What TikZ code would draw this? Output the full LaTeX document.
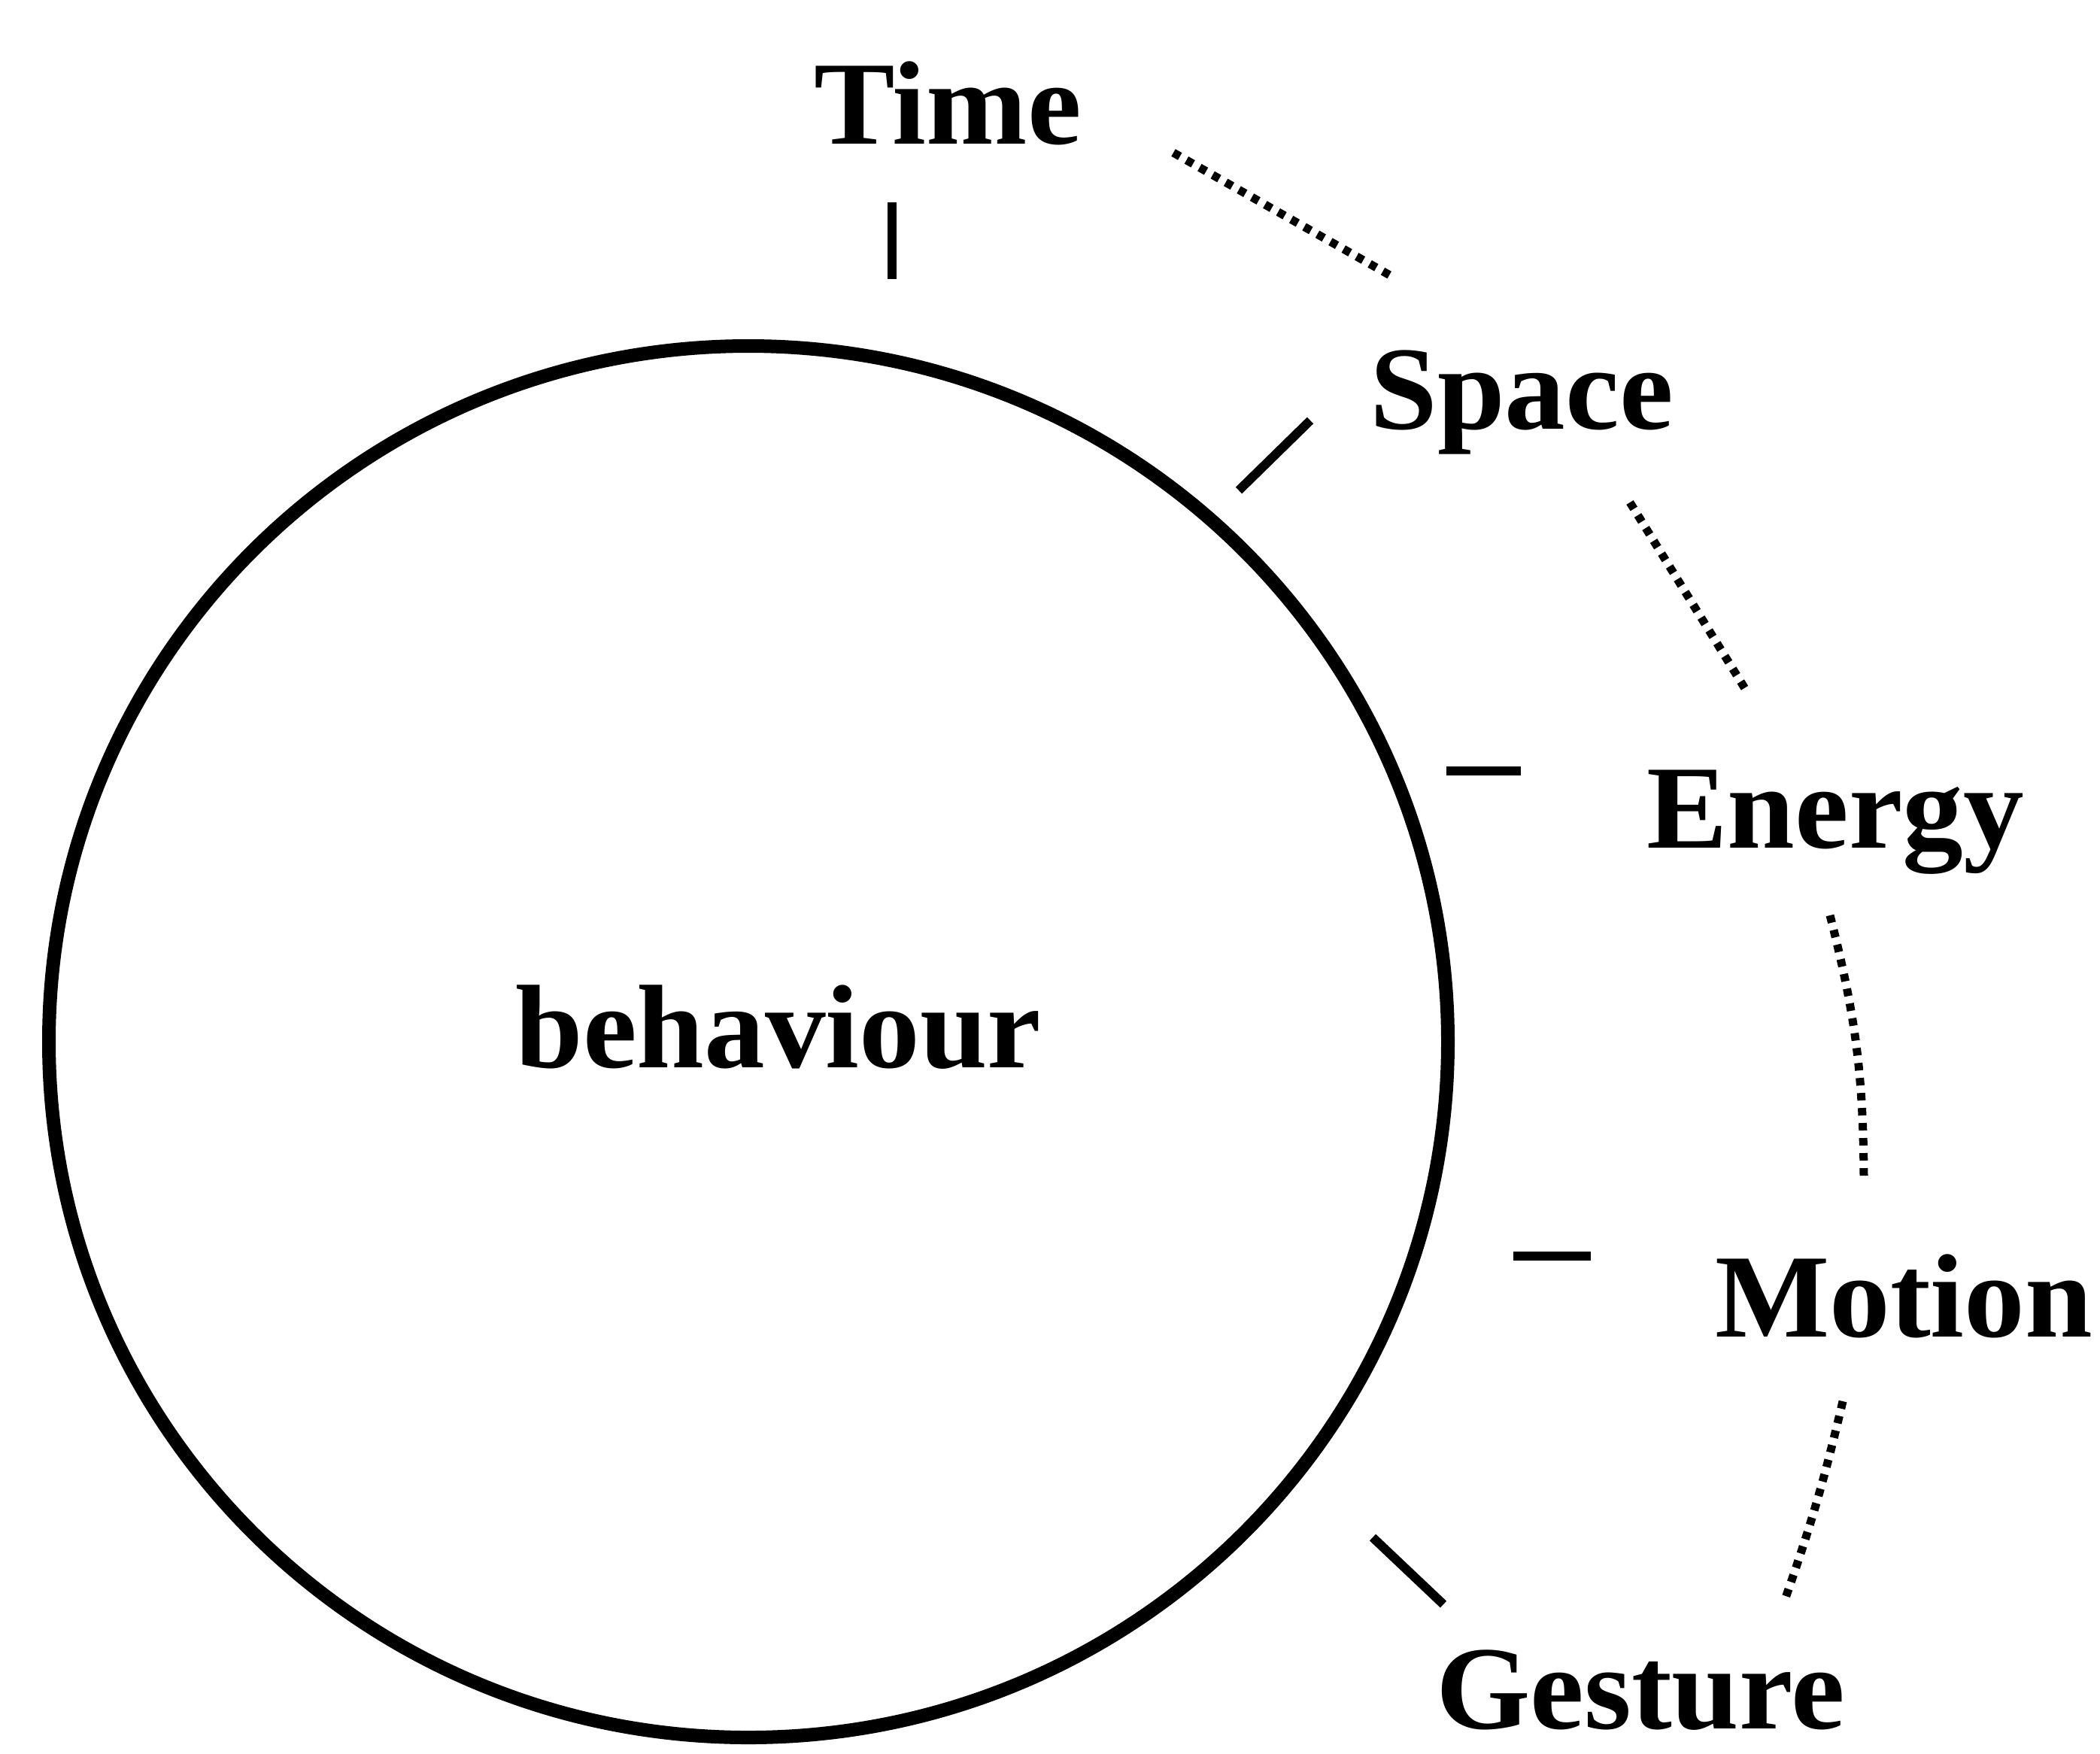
\documentclass[tikz,border=0pt]{standalone}
\usepackage{fontspec}
\setmainfont{Liberation Serif}[FakeStretch=1.02]
\usetikzlibrary{shapes.geometric}
\begin{document}
\begin{tikzpicture}[x=1cm,y=1cm,
  word/.style={inner sep=0pt, anchor=base, font=\fontsize{45}{50}\selectfont\bfseries},
  ring/.style={line width=0.18cm},
  tick/.style={line width=0.12cm},
  dotline/.style={line width=0.11cm, dash pattern=on 0.1cm off 0.1cm}]
  \useasboundingbox (0,0) rectangle (27.92,-23.31);

  % central circle
  \node[draw, ring, ellipse, minimum width=18.6cm, minimum height=18.5cm, inner sep=0pt] (ring) at (9.95,-13.85) {};
  \node[word] (behaviour) at (10.35,-14.19) {behaviour};

  % surrounding labels
  \node[word] (time)    at (12.60,-1.91)  {Time};
  \node[word] (space)   at (20.23,-5.70)  {Space};
  \node[word] (energy)  at (24.40,-11.27) {Energy};
  \node[word] (motion)  at (25.31,-17.77) {Motion};
  \node[word] (gesture) at (21.81,-22.98) {Gesture};

  % short strokes between circle and labels
  \coordinate (t1) at (11.86,-2.69);  \coordinate (t2) at (11.86,-3.71);
  \coordinate (s1) at (16.47,-6.52);  \coordinate (s2) at (17.42,-5.59);
  \coordinate (e1) at (19.23,-10.25); \coordinate (e2) at (20.22,-10.25);
  \coordinate (m1) at (20.12,-16.70); \coordinate (m2) at (21.15,-16.70);
  \coordinate (g1) at (18.25,-20.44); \coordinate (g2) at (19.19,-21.33);
  \draw[tick] (t1) -- (t2);
  \draw[tick] (s1) -- (s2);
  \draw[tick] (e1) -- (e2);
  \draw[tick] (m1) -- (m2);
  \draw[tick] (g1) -- (g2);

  % dotted links from label to label
  \coordinate (ts1) at (15.60,-2.03); \coordinate (ts2) at (18.55,-3.70);
  \coordinate (se1) at (21.67,-6.68); \coordinate (se2) at (23.24,-9.22);
  \coordinate (em1) at (24.33,-12.17); \coordinate (em2) at (24.78,-15.67);
  \coordinate (mg1) at (24.50,-18.63); \coordinate (mg2) at (23.73,-21.27);
  \draw[dotline] (ts1) -- (ts2);
  \draw[dotline] (se1) -- (se2);
  \draw[dotline] (em1) to[bend left=7] (em2);
  \draw[dotline] (mg1) to[bend left=3] (mg2);
\end{tikzpicture}
\end{document}
